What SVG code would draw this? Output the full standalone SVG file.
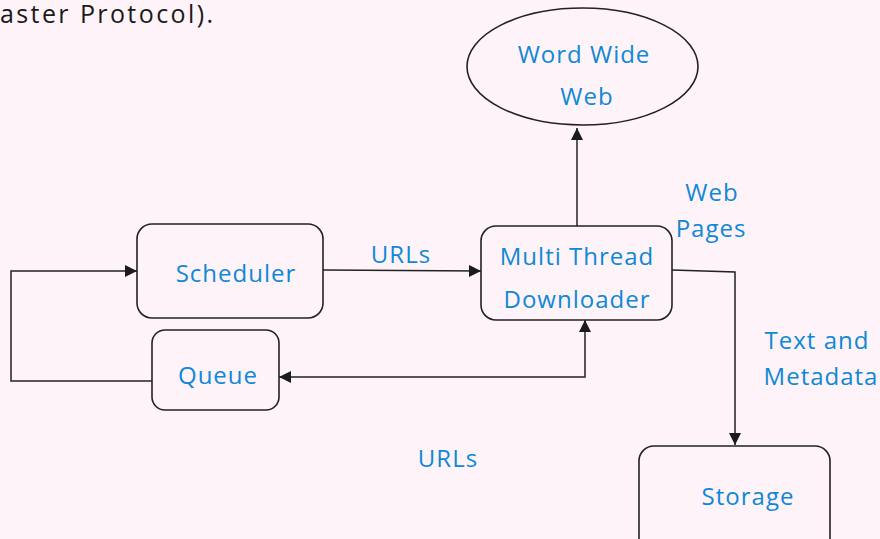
<svg xmlns="http://www.w3.org/2000/svg" width="880" height="539" viewBox="0 0 880 539">
  <defs>
    <marker id="arrow" viewBox="0 0 10 10" refX="10" refY="5" markerWidth="12" markerHeight="12" markerUnits="userSpaceOnUse" orient="auto-start-reverse">
      <path d="M0,0 L10,5 L0,10 Z" fill="#1b1b1b"/>
    </marker>
    <style>
      .bg { fill: #fdf3f8; }
      .node { fill: none; stroke: #222; stroke-width: 1.6; }
      .edge { fill: none; stroke: #222; stroke-width: 1.5; }
      .lbl { font-family: "Comic Sans MS", "Open Sans", "DejaVu Sans", sans-serif; font-size: 24px; letter-spacing: 1px; fill: #0f88d6; text-anchor: middle; }
      .title { font-family: "Comic Sans MS", "Open Sans", "DejaVu Sans", sans-serif; font-size: 25px; letter-spacing: 1px; fill: #1a1a1a; }
    </style>
  </defs>

  <rect class="bg" x="0" y="0" width="880" height="539"/>

  <!-- tail of the preceding sentence -->
  <text class="title" x="0" y="23" textLength="214" lengthAdjust="spacing">aster Protocol).</text>

  <!-- connectors -->
  <g id="connectors">
    <!-- Scheduler -> Downloader -->
    <path class="edge" d="M323,270 L481,271" marker-end="url(#arrow)"/>
    <!-- Queue loops back to Scheduler -->
    <path class="edge" d="M152,381 L11,381 L11,271 L137,271" marker-end="url(#arrow)"/>
    <!-- Downloader <-> Queue -->
    <path class="edge" d="M585,320 L585,377 L279,377" marker-start="url(#arrow)" marker-end="url(#arrow)"/>
    <!-- Downloader -> Web -->
    <path class="edge" d="M577,226 L577,128" marker-end="url(#arrow)"/>
    <!-- Downloader -> Storage -->
    <path class="edge" d="M672,270 L735,272 L735,445" marker-end="url(#arrow)"/>

    <text class="lbl" x="401" y="263">URLs</text>
    <text class="lbl" x="448" y="467">URLs</text>
    <text class="lbl" x="712" y="201">Web</text>
    <text class="lbl" x="711" y="237">Pages</text>
    <text class="lbl" x="817" y="349">Text and</text>
    <text class="lbl" x="821" y="385">Metadata</text>
  </g>

  <g id="web">
    <ellipse class="node" cx="582.5" cy="66.5" rx="115.5" ry="58.5"/>
    <text class="lbl" x="584" y="63">Word Wide</text>
    <text class="lbl" x="587" y="105">Web</text>
  </g>

  <g id="scheduler">
    <rect class="node" x="137" y="224" width="186" height="94" rx="15"/>
    <text class="lbl" x="236" y="282">Scheduler</text>
  </g>

  <g id="queue">
    <rect class="node" x="152" y="330" width="127" height="80" rx="13"/>
    <text class="lbl" x="218" y="384">Queue</text>
  </g>

  <g id="downloader">
    <rect class="node" x="481" y="226" width="191" height="94" rx="15"/>
    <text class="lbl" x="577" y="265">Multi Thread</text>
    <text class="lbl" x="577" y="308">Downloader</text>
  </g>

  <g id="storage">
    <rect class="node" x="639" y="446" width="191" height="110" rx="15"/>
    <text class="lbl" x="748" y="505">Storage</text>
  </g>
</svg>
